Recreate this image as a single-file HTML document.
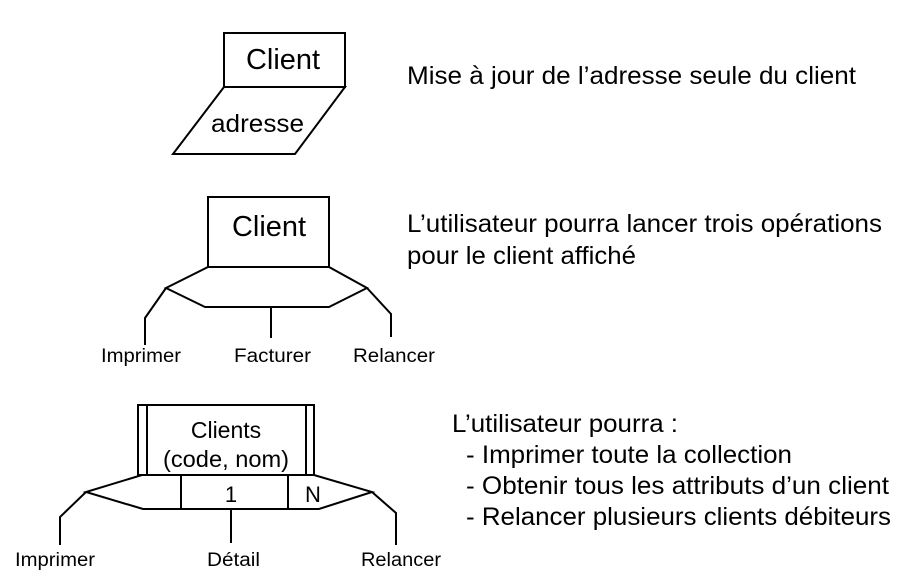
<!DOCTYPE html>
<html><head><meta charset="utf-8"><style>
html,body{margin:0;padding:0;background:#fff;}
svg{display:block;}
text{font-family:"Liberation Sans",Arial,sans-serif;fill:#000;}
</style></head><body>
<svg width="912" height="585" viewBox="0 0 912 585" xmlns="http://www.w3.org/2000/svg">
<g fill="none" stroke="#000" stroke-width="2">
<rect x="224" y="33" width="121" height="54"/>
<polygon points="224,87 345,87 295,154 173,154"/>
<rect x="208" y="197" width="121" height="70"/>
<polygon points="208,267 329,267 367,288 329,307 205,307 166,288"/>
<polyline points="166,288 145,318 145,345"/>
<line x1="271" y1="307" x2="271" y2="338"/>
<polyline points="367,288 391,314 391,337"/>
<rect x="138" y="405" width="176" height="70"/>
<line x1="147" y1="405" x2="147" y2="475"/>
<line x1="306" y1="405" x2="306" y2="475"/>
<polygon points="142,475 314,475 372,492 319,509 143,509 86,492"/>
<line x1="181" y1="475" x2="181" y2="509"/>
<line x1="288" y1="475" x2="288" y2="509"/>
<polyline points="86,492 60,517 60,545"/>
<line x1="231" y1="509" x2="231" y2="543"/>
<polyline points="372,492 396,513 396,545"/>
</g>
<text x="246" y="69" font-size="29" textLength="74" lengthAdjust="spacingAndGlyphs">Client</text>
<text x="211" y="132" font-size="25" textLength="93" lengthAdjust="spacingAndGlyphs">adresse</text>
<text x="407" y="84" font-size="25" textLength="449" lengthAdjust="spacingAndGlyphs">Mise à jour de l’adresse seule du client</text>

<text x="232" y="236" font-size="29" textLength="74" lengthAdjust="spacingAndGlyphs">Client</text>
<text x="407" y="232" font-size="25" textLength="475" lengthAdjust="spacingAndGlyphs">L’utilisateur pourra lancer trois opérations</text>
<text x="407" y="264" font-size="25" textLength="229" lengthAdjust="spacingAndGlyphs">pour le client affiché</text>
<text x="101" y="362" font-size="19" textLength="80" lengthAdjust="spacingAndGlyphs">Imprimer</text>
<text x="234" y="362" font-size="19" textLength="77" lengthAdjust="spacingAndGlyphs">Facturer</text>
<text x="353" y="362" font-size="19" textLength="82" lengthAdjust="spacingAndGlyphs">Relancer</text>

<text x="226" y="438" font-size="23" text-anchor="middle">Clients</text>
<text x="163" y="467" font-size="23" textLength="126" lengthAdjust="spacingAndGlyphs">(code, nom)</text>
<text x="231" y="502" font-size="22" text-anchor="middle">1</text>
<text x="313" y="502" font-size="22" text-anchor="middle">N</text>
<text x="15" y="566" font-size="19" textLength="80" lengthAdjust="spacingAndGlyphs">Imprimer</text>
<text x="207" y="566" font-size="19" textLength="53" lengthAdjust="spacingAndGlyphs">Détail</text>
<text x="361" y="566" font-size="19" textLength="80" lengthAdjust="spacingAndGlyphs">Relancer</text>

<text x="452" y="432" font-size="25" textLength="226" lengthAdjust="spacingAndGlyphs">L’utilisateur pourra :</text>
<text x="466" y="463" font-size="25" textLength="326" lengthAdjust="spacingAndGlyphs">- Imprimer toute la collection</text>
<text x="466" y="494" font-size="25" textLength="423" lengthAdjust="spacingAndGlyphs">- Obtenir tous les attributs d’un client</text>
<text x="466" y="525" font-size="25" textLength="425" lengthAdjust="spacingAndGlyphs">- Relancer plusieurs clients débiteurs</text>
</svg>
</body></html>
